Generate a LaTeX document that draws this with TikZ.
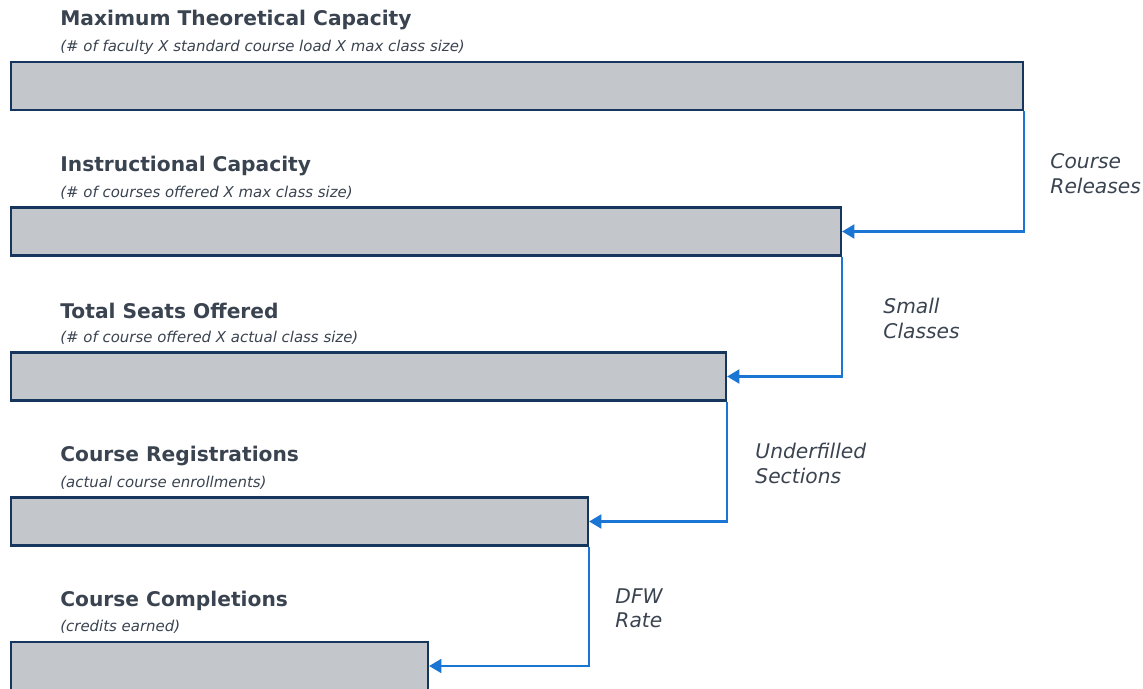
\documentclass[tikz,border=0pt]{standalone}
\usepackage{fontspec}
\setmainfont{DejaVu Sans}
\usetikzlibrary{arrows.meta}

\definecolor{slate}{HTML}{3A4350}
\definecolor{barfill}{HTML}{C3C7CB}
\definecolor{barline}{HTML}{17365D}
\definecolor{flowblue}{HTML}{1A76D2}

\tikzset{
  bar/.style={draw=barline,fill=barfill,line width=1.2pt,anchor=west,minimum height=0.96cm,inner sep=0pt},
  bartitle/.style={anchor=west,inner sep=0pt,text=slate,font=\fontsize{11.5}{13}\selectfont\bfseries},
  barnote/.style={anchor=west,inner sep=0pt,text=slate,font=\fontsize{8.5}{10}\selectfont\itshape},
  loss/.style={anchor=west,inner sep=0pt,align=left,text=slate,font=\fontsize{11.5}{14.2}\selectfont\itshape},
  flow/.style={draw=flowblue,line width=1.2pt,-{Triangle[length=7pt,width=8pt]}}
}

\begin{document}
\begin{tikzpicture}[x=1cm,y=1cm]
  \useasboundingbox (0,0) rectangle (22.86,-13.76);

  % Capacity bars, widest first
  \node[bar,minimum width=20.24cm] (maxcap) at (0.2,-1.72) {};
  \node[bar,minimum width=16.6cm]  (instcap) at (0.2,-4.63) {};
  \node[bar,minimum width=14.3cm]  (seats) at (0.2,-7.53) {};
  \node[bar,minimum width=11.54cm] (regs) at (0.2,-10.43) {};
  \node[bar,minimum width=8.34cm]  (compl) at (0.2,-13.32) {};

  % Headings above each bar
  \foreach \b/\t/\n in {maxcap/Maximum Theoretical Capacity/(\# of faculty X standard course load X max class size),
                        instcap/Instructional Capacity/(\# of courses offered X max class size),
                        seats/Total Seats Offered/(\# of course offered X actual class size),
                        regs/Course Registrations/(actual course enrollments),
                        compl/Course Completions/(credits earned)} {
    \node[bartitle] (\b-t) at ([xshift=1cm,yshift=0.81cm]\b.north west) {\t};
    \node[barnote]  (\b-n) at ([xshift=1cm,yshift=0.28cm]\b.north west) {\n};
  }

  % Step-down arrows and what is lost at each step
  \draw[flow] (maxcap.south east) |- (instcap.east) coordinate[pos=0.25] (l1);
  \draw[flow] (instcap.south east) |- (seats.east) coordinate[pos=0.25] (l2);
  \draw[flow] (seats.south east) |- (regs.east) coordinate[pos=0.25] (l3);
  \draw[flow] (regs.south east) |- (compl.east) coordinate[pos=0.25] (l4);

  \node[loss] (rel) at ([xshift=0.52cm,yshift=-0.04cm]l1) {Course\\Releases};
  \node[loss] (small) at ([xshift=0.82cm,yshift=-0.04cm]l2) {Small\\Classes};
  \node[loss] (under) at ([xshift=0.56cm,yshift=-0.04cm]l3) {Underfilled\\Sections};
  \node[loss] (dfw) at ([xshift=0.52cm,yshift=-0.04cm]l4) {DFW\\Rate};
\end{tikzpicture}
\end{document}
